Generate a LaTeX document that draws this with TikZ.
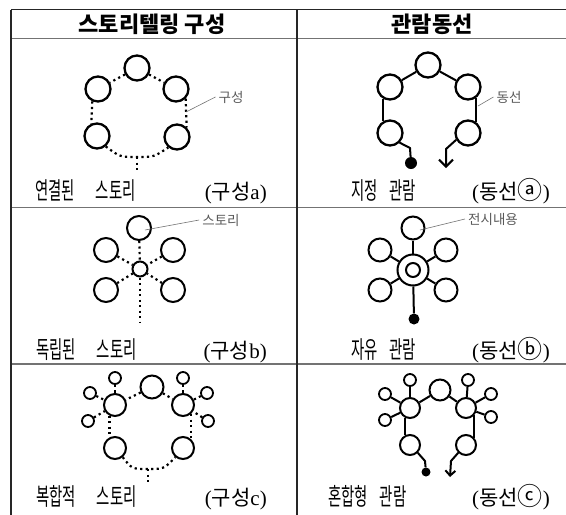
\documentclass[tikz,border=0pt]{standalone}
\usepackage{fontspec}
\setmainfont{Liberation Serif}
\newfontfamily\krfont{Noto Sans CJK KR}
\newfontfamily\krnarrow{Noto Sans CJK KR}[FakeStretch=0.6]
\usetikzlibrary{arrows.meta}
\newcommand{\wgap}{\hskip 21pt\relax}
\newcommand{\ngap}{\hskip 12pt\relax}
\newcommand{\circled}[1]{{\fontsize{25}{25}\selectfont #1}}
\tikzset{
  rule/.style={line width=1.3pt, black!85},
  thinrule/.style={line width=1.3pt, black!55},
  bubble/.style={circle, draw, line width=2.3pt, inner sep=0pt, minimum size=#1},
  bubble/.default=25pt,
  dots/.style={line width=2.2pt, dash pattern=on 2.2pt off 3.3pt},
  link/.style={line width=2pt},
  spot/.style={circle, fill, inner sep=0pt, minimum size=#1},
  lead/.style={line width=0.6pt, black!55},
  note/.style={font=\krfont\fontsize{13.5}{13.5}\selectfont, text=black!65, inner sep=3pt},
  words/.style={font=\krnarrow\fontsize{24}{24}\selectfont, inner sep=0pt, anchor=base west},
  tagtext/.style={font=\fontsize{21}{21}\selectfont, inner sep=0pt, anchor=base east},
  headtext/.style={font=\krfont\bfseries\fontsize{22}{22}\selectfont, inner sep=0pt, anchor=base}
}
\begin{document}
\begin{tikzpicture}[x=1pt, y=-1pt]
  \useasboundingbox (0,0) rectangle (566,515);
  % table
  \draw[rule] (11,9.5) -- (566,9.5); \draw[thinrule] (11,38.5) -- (566,38.5);
  \draw[thinrule] (11,207.7) -- (566,207.7); \draw[thinrule] (11,364) -- (566,364);
  \draw[rule] (11,9.5) -- (11,515); \draw[rule] (297,9.5) -- (297,515);
  \node[headtext] (h1) at (152,32) {스토리텔링 구성}; \node[headtext] (h2) at (432,32) {관람동선};

  % connected stories
  \node[bubble] (a1t) at (137,68) {}; \node[bubble] (a1ul) at (98,89) {}; \node[bubble] (a1ur) at (176,89) {};
  \node[bubble] (a1ll) at (97,136) {}; \node[bubble] (a1lr) at (177,137) {};
  \coordinate (a1dip) at (137,157); \coordinate (a1end) at (137,171); \coordinate (a1pin) at (186,112);
  \draw[dots] (a1t) -- (a1ul); \draw[dots] (a1t) -- (a1ur);
  \draw[dots] (a1ul.-115) -- (a1ll.115); \draw[dots] (a1ur.-45) -- (a1lr.45);
  \draw[dots] (a1ll.-50) .. controls (120,157) .. (a1dip) .. controls (154,157) .. (a1lr.-130);
  \draw[dots] (a1dip) -- (a1end);
  \node[note] (a1note) at (231,97) {구성}; \draw[lead] (a1pin) -- (a1note.west);
  \node[words] (a1cap) at (35,199) {연결된\wgap 스토리}; \node[tagtext] (a1tag) at (267,199) {({\krfont 구성}a)};

  % fixed route
  \node[bubble] (a2t) at (428,65) {}; \node[bubble] (a2ul) at (390,87) {}; \node[bubble] (a2ur) at (468,87) {};
  \node[bubble] (a2ll) at (390,133) {}; \node[bubble] (a2lr) at (468,133) {};
  \coordinate (a2kl) at (410,148); \coordinate (a2kr) at (446,149); \coordinate (a2end) at (446,168);
  \node[spot=12pt] (a2dot) at (411,163) {}; \coordinate (a2pin) at (478,106);
  \draw[link] (a2t) -- (a2ul); \draw[link] (a2t) -- (a2ur);
  \draw[link] (a2ul.-122) -- (a2ll.122); \draw[link] (a2ur.-55) -- (a2lr.55);
  \draw[link] (a2ll.-45) -- (a2kl) -- (a2dot);
  \draw[link, -{Straight Barb[length=7pt, width=14pt]}] (a2lr.-150) -- (a2kr) -- (a2end);
  \node[note] (a2note) at (509,97) {동선}; \draw[lead] (a2pin) -- (a2note.west);
  \node[words] (a2cap) at (351,199) {지정\ngap 관람}; \node[tagtext] (a2tag) at (550,199) {({\krfont 동선\circled{ⓐ}})};

  % independent stories
  \node[bubble=24pt, line width=2pt] (b1t) at (139,228) {}; \node[bubble=24pt, line width=2pt] (b1ul) at (106,250) {};
  \node[bubble=24pt, line width=2pt] (b1ur) at (173,250) {}; \node[bubble=15pt, line width=2pt] (b1hub) at (140,269) {};
  \node[bubble=24pt, line width=2pt] (b1ll) at (106,290) {}; \node[bubble=24pt, line width=2pt] (b1lr) at (173,290) {};
  \coordinate (b1end) at (140,323); \coordinate (b1pin) at (145,230);
  \draw[dots] (b1t) -- (b1hub); \draw[dots] (b1ul) -- (b1hub); \draw[dots] (b1ur) -- (b1hub);
  \draw[dots] (b1ll) -- (b1hub); \draw[dots] (b1lr) -- (b1hub); \draw[dots] (b1hub) -- (b1end);
  \node[note] (b1note) at (221,220) {스토리}; \draw[lead] (b1pin) -- (b1note.west);
  \node[words] (b1cap) at (36,358.5) {독립된\wgap 스토리}; \node[tagtext] (b1tag) at (267,358.5) {({\krfont 구성}b)};

  % free route
  \node[bubble=23pt, line width=2pt] (b2t) at (413,228) {}; \node[bubble=23pt, line width=2pt] (b2ul) at (380,250) {};
  \node[bubble=23pt, line width=2pt] (b2ur) at (446,250) {}; \node[bubble=31pt, line width=2pt] (b2hub) at (413,270) {};
  \node[bubble=14pt, line width=2pt] (b2core) at (413,270) {};
  \node[bubble=23pt, line width=2pt] (b2ll) at (380,290) {}; \node[bubble=23pt, line width=2pt] (b2lr) at (446,290) {};
  \node[spot=11pt] (b2dot) at (414,319) {}; \coordinate (b2pin) at (420,230);
  \draw[link] (b2t) -- (b2hub); \draw[link] (b2ul) -- (b2hub); \draw[link] (b2ur) -- (b2hub);
  \draw[link] (b2ll) -- (b2hub); \draw[link] (b2lr) -- (b2hub); \draw[link] (b2hub) -- (b2dot);
  \node[note] (b2note) at (493,219) {전시내용}; \draw[lead] (b2pin) -- (b2note.west);
  \node[words] (b2cap) at (351,358.5) {자유\ngap 관람}; \node[tagtext] (b2tag) at (550,358.5) {({\krfont 동선\circled{ⓑ}})};

  % compound stories
  \tikzset{big/.style={bubble=22pt, line width=2pt}, small/.style={bubble=12pt, line width=1.8pt}}
  \node[bubble=23pt, line width=2pt] (c1t) at (152,387) {}; \node[big] (c1ml) at (115,405) {}; \node[big] (c1mr) at (183,405) {};
  \node[small] (c1s1) at (115,378) {}; \node[small] (c1s2) at (90,393) {}; \node[small] (c1s3) at (88,421) {};
  \node[small] (c1s4) at (183,378) {}; \node[small] (c1s5) at (207,393) {}; \node[small] (c1s6) at (208,421) {};
  \node[big] (c1ll) at (115,448) {}; \node[big] (c1lr) at (183,448) {};
  \coordinate (c1dip) at (148,469); \coordinate (c1end) at (148,483);
  \draw[dots] (c1t) -- (c1ml); \draw[dots] (c1t) -- (c1mr);
  \draw[dots] (c1s1) -- (c1ml); \draw[dots] (c1s2) -- (c1ml); \draw[dots] (c1s3) -- (c1ml);
  \draw[dots] (c1s4) -- (c1mr); \draw[dots] (c1s5) -- (c1mr); \draw[dots] (c1s6) -- (c1mr);
  \draw[dots] (c1ml.-117) -- (c1ll.117); \draw[dots] (c1mr.-50) -- (c1lr.50);
  \draw[dots] (c1ll.-50) .. controls (132,469) .. (c1dip) .. controls (164,469) .. (c1lr.-130);
  \draw[dots] (c1dip) -- (c1end);
  \node[words] (c1cap) at (36,505.5) {복합적\wgap 스토리}; \node[tagtext] (c1tag) at (267,505.5) {({\krfont 구성}c)};

  % mixed route
  \tikzset{mid/.style={bubble=20pt, line width=2pt}}
  \node[bubble=21pt, line width=2pt] (c2t) at (440,390) {}; \node[mid] (c2ml) at (410,408) {}; \node[mid] (c2mr) at (466,408) {};
  \node[small] (c2s1) at (410,380) {}; \node[small] (c2s2) at (385,394) {}; \node[small] (c2s3) at (385,420) {};
  \node[small] (c2s4) at (468,380) {}; \node[small] (c2s5) at (491,394) {}; \node[small] (c2s6) at (491,417) {};
  \node[mid] (c2ll) at (410,445) {}; \node[mid] (c2lr) at (466,445) {};
  \coordinate (c2kl) at (425,461); \coordinate (c2kr) at (451,461); \coordinate (c2end) at (450,477);
  \node[spot=9pt] (c2dot) at (426,472) {};
  \draw[link] (c2t) -- (c2ml); \draw[link] (c2t) -- (c2mr);
  \draw[link] (c2s1) -- (c2ml); \draw[link] (c2s2) -- (c2ml); \draw[link] (c2s3) -- (c2ml);
  \draw[link] (c2s4) -- (c2mr); \draw[link] (c2s5) -- (c2mr); \draw[link] (c2s6) -- (c2mr);
  \draw[link] (c2ml.-120) -- (c2ll.120); \draw[link] (c2mr.-40) -- (c2lr.40);
  \draw[link] (c2ll.-45) -- (c2kl) -- (c2dot);
  \draw[link, -{Straight Barb[length=5pt, width=10pt]}] (c2lr.-135) -- (c2kr) -- (c2end);
  \node[words] (c2cap) at (328,505.5) {혼합형\ngap 관람}; \node[tagtext] (c2tag) at (550,505.5) {({\krfont 동선\circled{ⓒ}})};
\end{tikzpicture}
\end{document}
